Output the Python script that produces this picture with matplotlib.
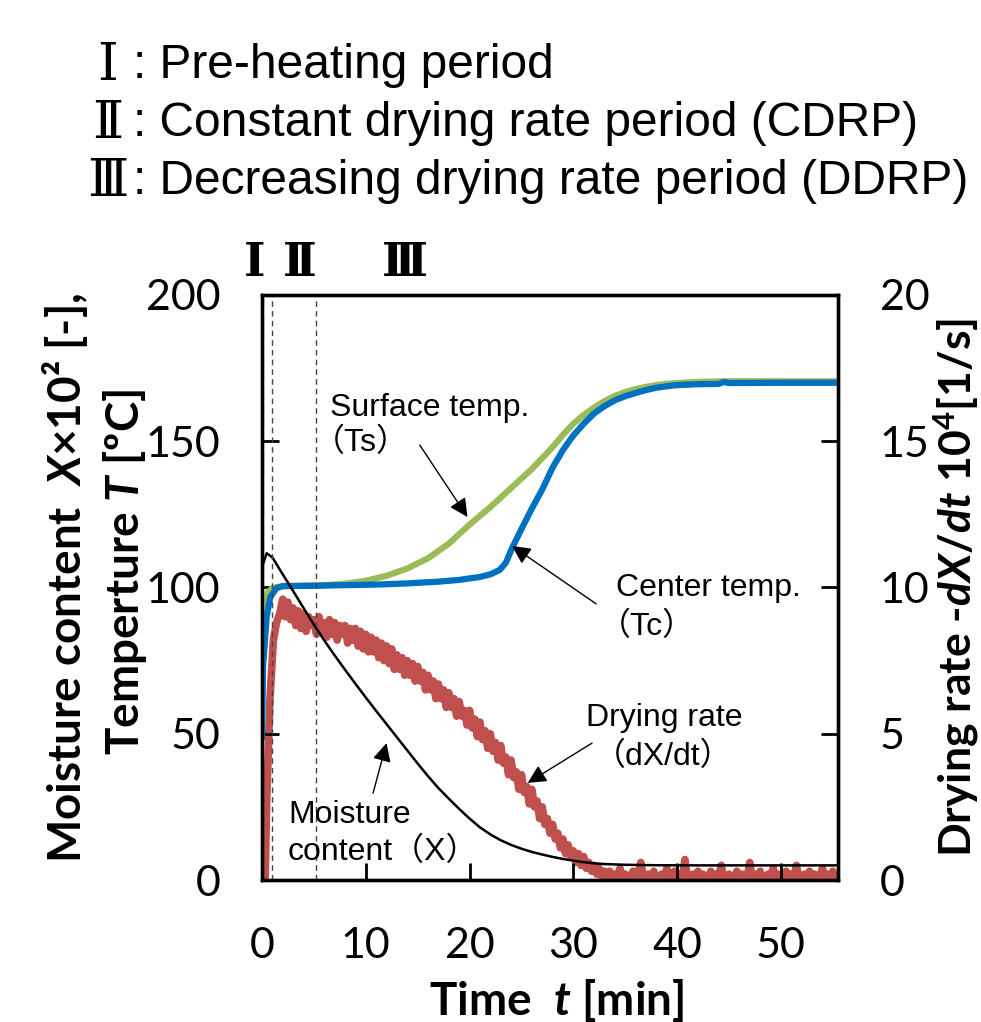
import numpy as np
import matplotlib
matplotlib.use('Agg')
import matplotlib.pyplot as plt

plt.rcParams['font.family'] = ['Lato', 'DejaVu Sans']
plt.rcParams['mathtext.fontset'] = 'custom'
plt.rcParams['mathtext.rm'] = 'Lato:bold'
plt.rcParams['mathtext.bf'] = 'Lato:bold'
plt.rcParams['mathtext.it'] = 'Lato:bold:italic'

# surface temperature Ts [degC]
t_surf = [0, 0.3, 0.6, 1.0, 1.5, 2, 4, 6, 8, 10, 12, 14, 16, 18, 20, 22, 24, 26,
          28, 29, 30, 31, 32, 33, 34, 35, 36, 37, 38, 39, 40, 42, 45, 50, 55.5]
T_surf = [80, 95, 98.5, 99.8, 100.2, 100.4, 100.6, 100.8, 101.3, 102.3, 104, 106.5,
          110, 115, 121.5, 127.5, 134, 140.5, 148, 152.2, 156, 159, 161.5, 163.7,
          165.5, 166.8, 167.8, 168.6, 169.2, 169.6, 169.9, 170.3, 170.5, 170.5, 170.5]

# center temperature Tc [degC]
t_cent = [0, 0.1, 0.45, 0.8, 1.4, 2, 5, 8, 11, 14, 17, 19, 21, 22, 22.9, 23.5, 24.1,
          25, 26, 27, 28, 29, 30, 31, 32, 33, 34, 35, 36, 37, 38, 39, 40, 42, 44,
          44.5, 45, 50, 55.5]
T_cent = [49, 73, 90, 96.7, 99.8, 100.5, 100.6, 100.8, 101, 101.4, 102, 102.6, 103.6,
          104.5, 106, 108.5, 113.5, 120, 127, 133.5, 141, 147, 152, 156, 159.5, 162,
          164, 165.4, 166.5, 167.5, 168.3, 168.8, 169.2, 169.5, 169.6, 170.3, 169.9,
          170, 170]

# moisture content X x 10^2 [-]
t_moist = [0, 0.45, 1, 2, 3, 4, 5, 6, 7, 8, 9, 10, 11, 12, 13, 14, 15, 16, 17, 18,
           19, 20, 21, 22, 23, 24, 25, 26, 27, 28, 29, 30, 31, 32, 33, 35, 38, 42, 55.5]
X_moist = [107, 111.7, 110.3, 104.5, 98.8, 93.0, 87.3, 81.9, 76.8, 71.9, 67.1, 62.4,
           57.8, 53.3, 48.8, 44.3, 39.8, 35.5, 31.4, 27.8, 24.3, 21.0, 18.0, 15.6,
           13.6, 12.0, 10.7, 9.6, 8.7, 7.9, 7.2, 6.6, 6.1, 5.7, 5.45, 5.2, 5.05, 5.0, 5.0]

# drying rate -dX/dt x 10^4 [1/s]
t_rate_start = [0.3, 0.45, 0.77, 1.1, 1.4, 1.7]
rate_start = [0, 2.7, 6.2, 8.2, 8.8, 9.1]
rate_main = [
    9.6, 9.0, 9.5, 8.9,  9.3, 8.7, 9.2, 8.6,  9.1, 8.5, 9.0, 8.7,  8.9, 8.4, 9.0, 8.5,
    8.8, 8.3, 8.9, 8.4,  8.8, 8.2, 8.7, 8.4,  8.7, 8.1, 8.6, 8.2,  8.6, 8.0, 8.5, 7.9,
    8.4, 7.8, 8.3, 7.8,  8.2, 7.6, 8.1, 7.5,  8.0, 7.4, 7.9, 7.2,  7.7, 7.2, 7.6, 7.0,
    7.5, 7.0, 7.4, 6.8,  7.3, 6.8, 7.1, 6.5,  7.0, 6.5, 6.8, 6.2,  6.7, 6.2, 6.5, 5.9,
    6.4, 5.9, 6.2, 5.6,  6.1, 5.6, 5.8, 5.3,  5.8, 5.2, 5.5, 4.9,  5.4, 4.8, 5.1, 4.5,
    5.0, 4.4, 4.7, 4.1,  4.6, 4.0, 4.2, 3.6,  4.1, 3.5, 3.7, 3.1,  3.6, 3.0, 3.2, 2.6,
    3.1, 2.5, 2.7, 2.1,  2.5, 1.9, 2.1, 1.6,  1.9, 1.4, 1.6, 1.1,  1.4, 0.9, 1.2, 0.8,
    1.0, 0.6, 0.9, 0.5,  0.8, 0.4, 0.6, 0.3,  0.5, 0.2, 0.4, 0.1,  0.3,
    0.1, 0.3, 0.0, 0.2, 0.1, 0.4, 0.0, 0.2, 0.1, 0.1, 0.3, 0.0, 0.2, 0.6, 0.1, 0.0, 0.2, 0.1, 0.3, 0.0,
    0.1, 0.2, 0.0, 0.4, 0.1, 0.1, 0.3, 0.0, 0.2, 0.1, 0.7, 0.0, 0.1, 0.2, 0.0, 0.3, 0.1, 0.2, 0.0, 0.1,
    0.3, 0.0, 0.2, 0.1, 0.5, 0.0, 0.1, 0.2, 0.1, 0.0, 0.3, 0.1, 0.2, 0.0, 0.1, 0.6, 0.0, 0.2, 0.1, 0.3,
    0.0, 0.1, 0.2, 0.0, 0.4, 0.1, 0.2, 0.0, 0.1, 0.3, 0.0, 0.2, 0.1, 0.5, 0.0, 0.1, 0.2, 0.0, 0.3, 0.1,
    0.2, 0.0, 0.1, 0.4, 0.0, 0.2, 0.1, 0.3, 0.0, 0.1]
t_rate = t_rate_start + list(np.arange(2.0, 55.51, 0.25))
rate = rate_start + rate_main

period_bounds = [0.96, 5.2]
xticks = [0, 10, 20, 30, 40, 50]
yticks_left = [0, 50, 100, 150, 200]
yticks_right = [0, 5, 10, 15, 20]

fig = plt.figure(figsize=(9.81, 10.22), dpi=100)
ax = fig.add_axes([262 / 981, 1 - 880 / 1022, (838 - 262) / 981, (880 - 295) / 1022])
ax2 = ax.twinx()
ax.set_zorder(ax2.get_zorder() + 1)
ax.patch.set_visible(False)

ax2.plot(t_rate, rate, color='#C0504D', lw=5.5)
ax.plot(t_surf, T_surf, color='#9BBB59', lw=4.5)
ax.plot(t_cent, T_cent, color='#0070C0', lw=4.5)
ax.plot(t_moist, X_moist, color='black', lw=1.8)
for b in period_bounds:
    ax.axvline(b, color='#444444', lw=1, ls=(0, (4, 3)))

ax.set_xlim(0, 55.5)
ax.set_ylim(0, 200)
ax2.set_ylim(0, 20)
ax.set_xticks(xticks)
ax.set_yticks(yticks_left)
ax2.set_yticks(yticks_right)

for a in (ax, ax2):
    for s in a.spines.values():
        s.set_linewidth(2.4)
ax.tick_params(direction='in', length=12, width=2, labelsize=31, pad=30)
ax.tick_params(axis='x', pad=34)
ax2.tick_params(direction='in', length=12, width=2, labelsize=31, pad=30)

# annotations
txt = dict(fontsize=23, family=['Liberation Sans', 'Noto Sans CJK JP'],
           ha='left', va='center')
arw = dict(arrowstyle='-|>', mutation_scale=28, lw=1, color='black', shrinkA=0, shrinkB=0)
ax.text(6.6, 161.4, 'Surface temp.', **txt)
ax.text(4.9, 149.4, '（Ts）', **txt)
ax.annotate('', xy=(19.8, 124.1), xytext=(15.2, 148.7), arrowprops=arw)
ax.text(34.1, 99.8, 'Center temp.', **txt)
ax.text(32.5, 86.5, '（Tc）', **txt)
ax.annotate('', xy=(24.1, 114.2), xytext=(32.2, 94.4), arrowprops=arw)
ax.text(31.25, 55.4, 'Drying rate', **txt)
ax.text(32.0, 42.0, '（dX/dt）', **txt)
ax.annotate('', xy=(25.6, 33.2), xytext=(31.8, 46.8), arrowprops=arw)
ax.text(2.5, 22.2, 'Moisture', **txt)
ax.text(2.5, 9.6, 'content（X）', **txt)
ax.annotate('', xy=(12.0, 46.8), xytext=(10.7, 29.7), arrowprops=arw)

# period marks above the axes
for lab, xp in zip(['Ⅰ', 'Ⅱ', 'Ⅲ'], [255, 300, 405]):
    fig.text(xp / 981, 1 - 263 / 1022, lab, family='DejaVu Serif', fontweight='bold',
             fontsize=33, ha='center', va='center')

# period legend
leg_font = ['Liberation Sans', 'Noto Sans CJK JP']
for lab, desc, yp in zip(['Ⅰ', 'Ⅱ', 'Ⅲ'],
                         ['Pre-heating period', 'Constant drying rate period (CDRP)',
                          'Decreasing drying rate period (DDRP)'],
                         [65, 123, 181]):
    fig.text(108 / 981, 1 - yp / 1022, lab, family=['DejaVu Serif'], fontsize=38,
             ha='center', va='center')
    fig.text(133 / 981, 1 - yp / 1022, ': ' + desc, family=leg_font, fontsize=34.5,
             ha='left', va='center')

# axis labels
fig.text(65 / 981, 0.435, 'Moisture content  $X$×10² [-],', rotation=90,
         fontsize=33, fontweight='bold', ha='center', va='center')
fig.text(125 / 981, 0.44, 'Temperture $T$ [ºC]', rotation=90,
         fontsize=33, fontweight='bold', ha='center', va='center')
fig.text(956 / 981, 0.425, 'Drying rate -$dX/dt$ 10$^{4}$[1/s]', rotation=90,
         fontsize=32, fontweight='bold', ha='center', va='center')
fig.text(557 / 981, 1 - 1000 / 1022, 'Time  $t$ [min]',
         fontsize=33, fontweight='bold', ha='center', va='center')

fig.savefig('out.png', dpi=100)
